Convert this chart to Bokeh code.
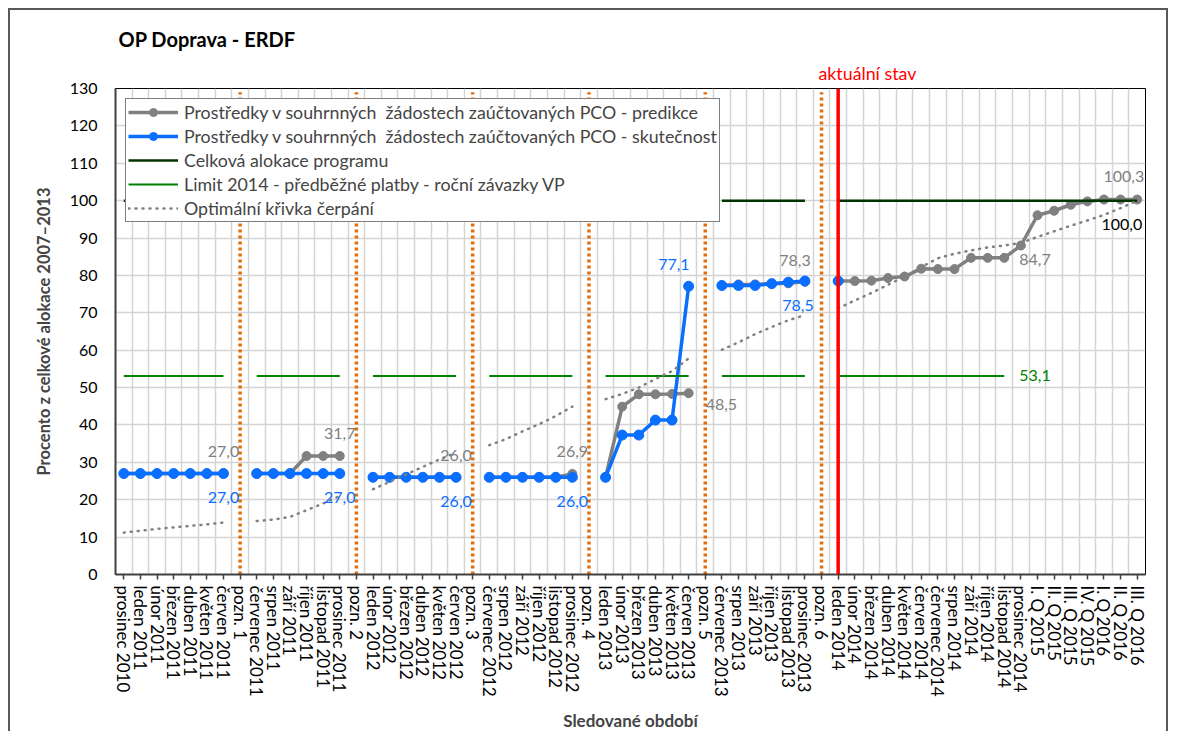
import numpy as np
from bokeh.plotting import figure
from bokeh.models import (FixedTicker, Legend, LegendItem, Range1d, Span, Title)
from bokeh.core.properties import value
from bokeh.embed import file_html
from bokeh.resources import INLINE

# ---------------- data ----------------
categories = [
    "prosinec 2010", "leden 2011", "únor 2011", "březen 2011", "duben 2011", "květen 2011", "červen 2011",
    "pozn. 1",
    "červenec 2011", "srpen 2011", "září 2011", "říjen 2011", "listopad 2011", "prosinec 2011",
    "pozn. 2",
    "leden 2012", "únor 2012", "březen 2012", "duben 2012", "květen 2012", "červen 2012",
    "pozn. 3",
    "červenec 2012", "srpen 2012", "září 2012", "říjen 2012", "listopad 2012", "prosinec 2012",
    "pozn. 4",
    "leden 2013", "únor 2013", "březen 2013", "duben 2013", "květen 2013", "červen 2013",
    "pozn. 5",
    "červenec 2013", "srpen 2013", "září 2013", "říjen 2013", "listopad 2013", "prosinec 2013",
    "pozn. 6",
    "leden 2014", "únor 2014", "březen 2014", "duben 2014", "květen 2014", "červen 2014",
    "červenec 2014", "srpen 2014", "září 2014", "říjen 2014", "listopad 2014", "prosinec 2014",
    "I. Q 2015", "II. Q 2015", "III. Q 2015", "IV. Q 2015", "I. Q 2016", "II. Q 2016", "III. Q 2016",
]

predikce = [
    27.0, 27.0, 27.0, 27.0, 27.0, 27.0, 27.0,
    None,
    27.0, 27.0, 27.0, 31.7, 31.7, 31.7,
    None,
    26.0, 26.0, 26.0, 26.0, 26.0, 26.0,
    None,
    26.0, 26.0, 26.0, 26.0, 26.0, 26.9,
    None,
    26.0, 44.9, 48.2, 48.2, 48.3, 48.5,
    None,
    77.3, 77.6, 77.6, 77.8, 77.9, 78.3,
    None,
    78.5, 78.5, 78.6, 79.3, 79.7, 81.8, 81.7, 81.7, 84.7, 84.7, 84.7, 88.0,
    96.1, 97.3, 98.9, 99.8, 100.3, 100.3, 100.3,
]

skutecnost = [
    27.0, 27.0, 27.0, 27.0, 27.0, 27.0, 27.0,
    None,
    27.0, 27.0, 27.0, 27.0, 27.0, 27.0,
    None,
    26.0, 26.0, 26.0, 26.0, 26.0, 26.0,
    None,
    26.0, 26.0, 26.0, 26.0, 26.0, 26.0,
    None,
    26.0, 37.3, 37.3, 41.3, 41.3, 77.1,
    None,
    77.3, 77.3, 77.3, 77.8, 78.2, 78.5,
    None,
    78.5, None, None, None, None, None, None, None, None, None, None, None,
    None, None, None, None, None, None, None,
]

optimalni = [
    11.2, 11.7, 12.2, 12.6, 13.0, 13.4, 13.9,
    None,
    14.3, 14.7, 15.4, 17.2, 19.0, 21.0,
    None,
    22.8, 24.8, 26.8, 28.8, 30.8, 32.6,
    None,
    34.6, 36.2, 38.3, 40.2, 42.4, 44.9,
    None,
    46.9, 48.3, 50.0, 52.3, 54.4, 57.8,
    None,
    60.1, 62.1, 64.3, 66.2, 68.0, 69.4,
    None,
    71.2, 73.3, 75.3, 77.5, 79.7, 82.2, 84.6, 85.8, 86.7, 87.5, 88.0, 88.7,
    90.3, 91.8, 93.3, 94.7, 96.2, 98.0, 100.0,
]

alokace_value = 100.0
limit_value = 53.1
limit_last_category = "listopad 2014"
pozn_top = 129.0
current_category = "leden 2014"
current_text = "aktuální stav"
chart_title = "OP Doprava - ERDF"
x_title = "Sledované období"
y_title = "Procento z celkové alokace 2007–2013"

legend_labels = [
    "Prostředky v souhrnných  žádostech zaúčtovaných PCO - predikce",
    "Prostředky v souhrnných  žádostech zaúčtovaných PCO - skutečnost",
    "Celková alokace programu",
    "Limit 2014 - předběžné platby - roční závazky VP",
    "Optimální křivka čerpání",
]
y_ticks = list(range(0, 131, 10))

# ---------------- helpers ----------------
FONT = "Lato"
GRAY = "#808080"
BLUE = "#0A6EFF"
DKGREEN = "#003300"
GREEN = "#008000"
ORANGE = "#E46C0A"


def arr(v):
    return np.array([np.nan if a is None else a for a in v], dtype=float)


def fmt(v):
    return ("%.1f" % v).replace(".", ",")


n = len(categories)
x = np.arange(n, dtype=float)
pozn_idx = [i for i, c in enumerate(categories) if c.startswith("pozn.")]
is_pozn = np.array([c.startswith("pozn.") for c in categories])
cur_idx = categories.index(current_category)
lim_end = categories.index(limit_last_category)

gray_y = arr(predikce)
blue_y = arr(skutecnost)
opt_y = arr(optimalni)
alok_y = np.where(is_pozn, np.nan, alokace_value)
lim_y = np.where(is_pozn | (x > lim_end), np.nan, limit_value)

p = figure(width=1160, height=723, output_backend="svg", toolbar_location=None,
           x_range=Range1d(-0.5, n - 0.5), y_range=Range1d(0, 130),
           min_border_left=105, min_border_right=25, min_border_top=78, min_border_bottom=159,
           background_fill_color="white", border_fill_color="white", title=None)
p.styles = {"margin-left": "8px", "margin-top": "8px",
            "border-top": "2px solid #595959", "border-left": "2px solid #595959",
            "border-right": "2px solid #595959"}

# texts above the plot area
p.add_layout(Title(text=current_text, text_font=FONT, text_font_size="17.8px",
                   text_font_style="normal", text_color="red", align="left",
                   offset=703, standoff=9), "above")
p.add_layout(Title(text=chart_title, text_font=FONT, text_font_size="20px",
                   text_font_style="bold", text_color="black", align="left",
                   offset=3, standoff=10), "above")

# axes
p.xaxis.ticker = FixedTicker(ticks=list(x))
p.xaxis.major_label_overrides = {int(i): c for i, c in enumerate(categories)}
p.xaxis.major_label_orientation = "vertical"
p.xaxis.major_label_text_font = FONT
p.xaxis.major_label_text_font_size = "17px"
p.xaxis.major_label_text_color = "black"
p.xaxis.major_tick_out = 5
p.xaxis.major_tick_in = 0
p.xaxis.minor_tick_line_color = None
p.xaxis.major_label_standoff = 6
p.xaxis.axis_line_width = 2
p.xaxis.axis_line_color = "#404040"
p.xaxis.major_tick_line_color = "#404040"
p.xaxis.major_tick_line_width = 1.5
p.xaxis.axis_label = x_title
p.xaxis.axis_label_text_font = FONT
p.xaxis.axis_label_text_font_size = "17px"
p.xaxis.axis_label_text_font_style = "bold"
p.xaxis.axis_label_standoff = 10

p.yaxis.ticker = FixedTicker(ticks=y_ticks)
p.yaxis.major_label_text_font = FONT
p.yaxis.major_label_text_font_size = "16px"
p.yaxis.major_label_text_color = "black"
p.yaxis.major_tick_out = 0
p.yaxis.major_tick_in = 0
p.yaxis.minor_tick_line_color = None
p.yaxis.major_label_standoff = 18
p.yaxis.axis_line_width = 2
p.yaxis.axis_line_color = "#404040"
p.yaxis.axis_label = y_title
p.yaxis.axis_label_text_font = FONT
p.yaxis.axis_label_text_font_size = "16.5px"
p.yaxis.axis_label_text_font_style = "bold"
p.yaxis.axis_label_standoff = 13

p.xgrid.ticker = FixedTicker(ticks=list(x[:-1] + 0.5))
p.xgrid.grid_line_color = "#d4d4d4"
p.xgrid.grid_line_width = 1.5
p.ygrid.ticker = FixedTicker(ticks=y_ticks)
p.ygrid.grid_line_color = "#d4d4d4"
p.ygrid.grid_line_width = 1.5
p.outline_line_color = "black"
p.outline_line_width = 1

# vertical markers
p.segment(x0=[float(i) for i in pozn_idx], y0=[0] * len(pozn_idx),
          x1=[float(i) for i in pozn_idx], y1=[pozn_top] * len(pozn_idx),
          line_color=ORANGE, line_width=3.5, line_dash="3 3")
p.add_layout(Span(location=float(cur_idx), dimension="height", line_color="red", line_width=3.5))

# series
gl = p.line(x, gray_y, line_color=GRAY, line_width=3.5)
gs = p.scatter(x, gray_y, size=9, fill_color=GRAY, line_color=GRAY)
bl = p.line(x, blue_y, line_color=BLUE, line_width=3.5)
bs = p.scatter(x, blue_y, size=10, fill_color=BLUE, line_color=BLUE)
al = p.line(x, alok_y, line_color=DKGREEN, line_width=2.5)
ll = p.line(x, lim_y, line_color=GREEN, line_width=2)
ol = p.line(x, opt_y, line_color=GRAY, line_width=2.5, line_dash="1 6", line_cap="round")


# data labels
def labels(idx, ys, color, align="center", xo=0, yo=0):
    p.text(x=[x[i] for i in idx], y=[ys[i] for i in idx], text=[fmt(ys[i]) for i in idx],
           text_font=value(FONT), text_font_size="16px", text_color=color,
           text_align=align, text_baseline="middle", x_offset=xo, y_offset=yo)


labels([6, 13, 20, 27], gray_y, GRAY, yo=-22)
labels([n - 1], gray_y, GRAY, align="right", xo=7, yo=-23)
labels([41], gray_y, GRAY, xo=-10, yo=-21)
labels([34], gray_y, GRAY, align="left", xo=17, yo=11)
labels([53], gray_y, GRAY, align="left", xo=15, yo=2)
labels([6, 13, 20, 27], blue_y, BLUE, yo=24)
labels([41], blue_y, BLUE, xo=-7, yo=24)
labels([34], blue_y, BLUE, align="right", xo=1, yo=-22)
labels([n - 1], opt_y, "black", align="right", xo=5, yo=24)
labels([lim_end], lim_y, GREEN, align="left", xo=15, yo=0)

legend = Legend(items=[
    LegendItem(label=legend_labels[0], renderers=[gl, gs]),
    LegendItem(label=legend_labels[1], renderers=[bl, bs]),
    LegendItem(label=legend_labels[2], renderers=[al]),
    LegendItem(label=legend_labels[3], renderers=[ll]),
    LegendItem(label=legend_labels[4], renderers=[ol]),
], location="top_left", margin=10, padding=2, spacing=2, label_height=20, glyph_height=20,
    glyph_width=50, label_standoff=6, label_text_font=FONT, label_text_font_size="17.8px",
    border_line_color="black", border_line_width=1, background_fill_color="white",
    background_fill_alpha=1.0)
p.add_layout(legend, "center")

open("out.html", "w").write(file_html(p, INLINE))
